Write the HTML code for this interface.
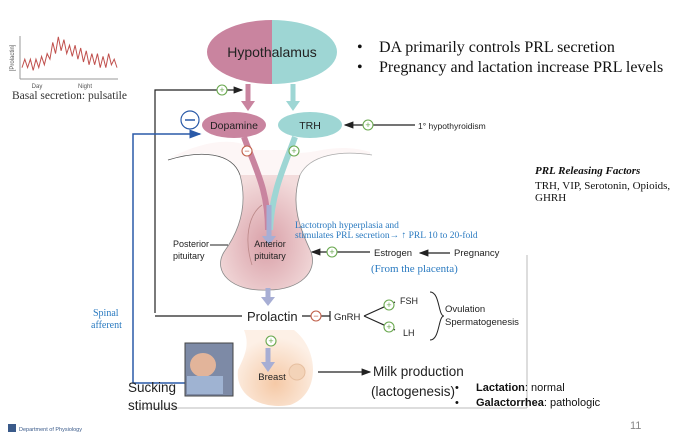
<!DOCTYPE html>
<html><head><meta charset="utf-8"><style>
body{margin:0;background:#fff;}
svg{display:block;font-family:"Liberation Sans",sans-serif;}
.serif{font-family:"Liberation Serif",serif;}
</style></head><body>
<svg width="697" height="434" viewBox="0 0 697 434" xmlns="http://www.w3.org/2000/svg">
<defs>
<marker id="ab" markerWidth="8" markerHeight="8" refX="7" refY="4" orient="auto"><path d="M0,1 L8,4 L0,7z" fill="#222"/></marker>
<marker id="abl" markerWidth="8" markerHeight="8" refX="7" refY="4" orient="auto"><path d="M0,1 L8,4 L0,7z" fill="#2a5aa8"/></marker>
<radialGradient id="pit" cx="0.5" cy="0.6" r="0.6"><stop offset="0" stop-color="#d9a0a8"/><stop offset="1" stop-color="#f3dcdc"/></radialGradient>
<radialGradient id="brst" cx="0.5" cy="0.7" r="0.6"><stop offset="0" stop-color="#f5c9a6"/><stop offset="1" stop-color="#fdf0e6"/></radialGradient>
<clipPath id="lh"><rect x="200" y="15" width="72" height="80"/></clipPath>
<clipPath id="rh"><rect x="272" y="15" width="72" height="80"/></clipPath>
</defs>

<g id="chart">
<line x1="20" y1="36" x2="20" y2="79" stroke="#999" stroke-width="1"/>
<line x1="20" y1="79" x2="118" y2="79" stroke="#999" stroke-width="1"/>
<text x="14" y="58" font-size="6" fill="#555" transform="rotate(-90 14 58)" text-anchor="middle">[Prolactin]</text>
<text x="37" y="88" font-size="6" fill="#555" text-anchor="middle">Day</text>
<text x="85" y="88" font-size="6" fill="#555" text-anchor="middle">Night</text>
</g>
<text x="12" y="99" class="serif" font-size="11.5" fill="#333">Basal secretion: pulsatile</text>

<line x1="527" y1="255" x2="527" y2="408" stroke="#bbb"/>
<line x1="140" y1="408" x2="527" y2="408" stroke="#bbb"/>

<path d="M170,158 C200,150 230,150 240,175 C248,200 240,230 222,255 C215,275 235,292 270,290 C300,288 315,272 310,250 C300,225 292,200 300,175 C310,155 340,150 370,155 L370,152 C330,140 305,160 290,150 L255,150 C235,135 200,142 170,158z" fill="#fdf6f6" stroke="none"/>
<path d="M168,160 C200,150 232,152 240,175" fill="none" stroke="#555" stroke-width="0.8"/>
<path d="M300,175 C310,155 340,150 372,155" fill="none" stroke="#aaa" stroke-width="0.8"/>
<path d="M240,175 C248,205 240,230 224,252 C212,272 232,292 268,290 C300,290 318,272 311,252 C300,228 290,205 300,175" fill="url(#pit)" stroke="#888" stroke-width="0.8"/>
<path d="M262,205 C248,215 244,240 252,265" fill="none" stroke="#b88" stroke-width="0.8"/>

<path d="M244,137 C256,170 268,190 268,230" fill="none" stroke="#c9849f" stroke-width="6"/>
<path d="M295,137 C285,165 272,190 270,230" fill="none" stroke="#9ed6d4" stroke-width="6"/>
<path d="M269,205 L269,240" stroke="#a7aed4" stroke-width="5"/>
<path d="M262,236 L269,245 L276,236z" fill="#a7aed4"/>
<path d="M268,288 L268,300" stroke="#a7aed4" stroke-width="5"/>
<path d="M261,297 L268,306 L275,297z" fill="#a7aed4"/>

<ellipse cx="272" cy="52" rx="65" ry="32" fill="#c9849f" clip-path="url(#lh)"/>
<ellipse cx="272" cy="52" rx="65" ry="32" fill="#9ed6d4" clip-path="url(#rh)"/>
<text x="272" y="57" font-size="14" fill="#222" text-anchor="middle">Hypothalamus</text>
<path d="M248,84 L248,104" stroke="#c9849f" stroke-width="5"/><path d="M241,101 L248,111 L255,101z" fill="#c9849f"/>
<path d="M293,84 L293,104" stroke="#9ed6d4" stroke-width="5"/><path d="M286,101 L293,111 L300,101z" fill="#9ed6d4"/>

<ellipse cx="234" cy="125" rx="32" ry="13" fill="#c9849f"/>
<text x="234" y="129" font-size="10.5" fill="#222" text-anchor="middle">Dopamine</text>
<ellipse cx="310" cy="125" rx="32" ry="13" fill="#9ed6d4"/>
<text x="310" y="129" font-size="10.5" fill="#222" text-anchor="middle">TRH</text>

<path d="M155,313 L155,90 L242,90" fill="none" stroke="#222" stroke-width="1.2" marker-end="url(#ab)"/>
<path d="M185,383 L133,383 L133,134 L200,134" fill="none" stroke="#2a5aa8" stroke-width="1.5" marker-end="url(#abl)"/>
<circle cx="190" cy="120" r="9" fill="#fff" stroke="#2a5aa8" stroke-width="1.2"/><line x1="185" y1="120" x2="195" y2="120" stroke="#2a5aa8" stroke-width="1.5"/>

<path d="M415,125 L345,125" stroke="#222" stroke-width="1.2" marker-end="url(#ab)"/>
<text x="418" y="129" font-size="8.5" fill="#222">1° hypothyroidism</text>

<path d="M370,252 L312,252" stroke="#222" stroke-width="1.2" marker-end="url(#ab)"/>
<path d="M450,253 L420,253" stroke="#222" stroke-width="1.2" marker-end="url(#ab)"/>
<text x="374" y="256" font-size="9.5" fill="#222">Estrogen</text>
<text x="454" y="256" font-size="9.5" fill="#222">Pregnancy</text>
<text x="371" y="272" class="serif" font-size="11" fill="#2a7ac0">(From the placenta)</text>
<text x="295" y="228" class="serif" font-size="9.5" fill="#2a7ac0">Lactotroph hyperplasia and</text>
<text x="295" y="238" class="serif" font-size="9.5" fill="#2a7ac0">stimulates PRL secretion→ ↑ PRL 10 to 20-fold</text>

<text x="173" y="247" font-size="9" fill="#222">Posterior</text>
<text x="173" y="259" font-size="9" fill="#222">pituitary</text>
<line x1="210" y1="245" x2="228" y2="245" stroke="#222"/>
<text x="270" y="247" font-size="9" fill="#222" text-anchor="middle">Anterior</text>
<text x="270" y="259" font-size="9" fill="#222" text-anchor="middle">pituitary</text>

<line x1="155" y1="316" x2="242" y2="316" stroke="#222" stroke-width="1.2"/>
<text x="247" y="321" font-size="13" fill="#222">Prolactin</text>
<line x1="302" y1="316" x2="330" y2="316" stroke="#222" stroke-width="1.2"/>
<line x1="330" y1="311" x2="330" y2="321" stroke="#222" stroke-width="1.2"/>
<text x="334" y="320" font-size="9.5" fill="#222">GnRH</text>
<path d="M364,316 L395,302 M364,316 L395,330" stroke="#222" stroke-width="1.2"/>
<text x="400" y="304" font-size="9" fill="#222">FSH</text>
<text x="403" y="336" font-size="9" fill="#222">LH</text>
<path d="M430,292 C440,292 438,316 444,316 C438,316 440,340 430,340" fill="none" stroke="#222"/>
<text x="445" y="312" font-size="9.5" fill="#222">Ovulation</text>
<text x="445" y="325" font-size="9.5" fill="#222">Spermatogenesis</text>

<path d="M294,330 C320,350 320,395 290,405 C260,410 235,395 238,370 C245,355 250,345 244,330z" fill="url(#brst)"/>
<circle cx="297" cy="372" r="8" fill="#f3d3b8" stroke="#e6bfa0"/>
<path d="M268,348 L268,365" stroke="#a7aed4" stroke-width="5"/><path d="M261,362 L268,372 L275,362z" fill="#a7aed4"/>
<text x="272" y="380" font-size="9.5" fill="#222" text-anchor="middle">Breast</text>
<path d="M318,372 L370,372" stroke="#222" stroke-width="1.2" marker-end="url(#ab)"/>
<text x="373" y="376" font-size="13.5" fill="#222">Milk production</text>
<text x="371" y="396" font-size="13.5" fill="#222">(lactogenesis)</text>

<rect x="185" y="343" width="48" height="53" fill="#7d8aa6" stroke="#444"/>
<ellipse cx="203" cy="365" rx="13" ry="12" fill="#e2b49a"/>
<rect x="187" y="376" width="36" height="18" fill="#9fb3d2"/>
<text x="128" y="392" font-size="13.5" fill="#222">Sucking</text>
<text x="128" y="410" font-size="13.5" fill="#222">stimulus</text>
<text x="93" y="316" class="serif" font-size="10" fill="#2a7ac0">Spinal</text>
<text x="91" y="328" class="serif" font-size="10" fill="#2a7ac0">afferent</text>

<g fill="#fff" stroke-width="1.1">
<circle cx="222" cy="90" r="5" stroke="#6aa84f"/><circle cx="368" cy="125" r="5" stroke="#6aa84f"/>
<circle cx="247" cy="151" r="5" stroke="#c0604a"/><circle cx="294" cy="151" r="5" stroke="#6aa84f"/>
<circle cx="332" cy="252" r="5" stroke="#6aa84f"/><circle cx="316" cy="316" r="5" stroke="#c0604a"/>
<circle cx="389" cy="305" r="5" stroke="#6aa84f"/><circle cx="389" cy="327" r="5" stroke="#6aa84f"/>
<circle cx="271" cy="341" r="5" stroke="#6aa84f"/>
</g>
<g font-size="9" text-anchor="middle">
<text x="222" y="93" fill="#6aa84f">+</text><text x="368" y="128" fill="#6aa84f">+</text>
<text x="247" y="154" fill="#c0604a">−</text><text x="294" y="154" fill="#6aa84f">+</text>
<text x="332" y="255" fill="#6aa84f">+</text><text x="316" y="319" fill="#c0604a">−</text>
<text x="389" y="308" fill="#6aa84f">+</text><text x="389" y="330" fill="#6aa84f">+</text>
<text x="271" y="344" fill="#6aa84f">+</text>
</g>

<text x="357" y="52" class="serif" font-size="16" fill="#111">•</text>
<text x="379" y="52" class="serif" font-size="16" fill="#111">DA primarily controls  PRL secretion</text>
<text x="357" y="72" class="serif" font-size="16" fill="#111">•</text>
<text x="379" y="72" class="serif" font-size="16" fill="#111">Pregnancy and lactation increase PRL levels</text>
<text x="535" y="174" class="serif" font-size="11" font-weight="bold" font-style="italic" fill="#111">PRL Releasing Factors</text>
<text x="535" y="189" class="serif" font-size="11" fill="#111">TRH, VIP, Serotonin, Opioids,</text>
<text x="535" y="201" class="serif" font-size="11" fill="#111">GHRH</text>
<text x="455" y="391" font-size="11" fill="#111">•</text>
<text x="476" y="391" font-size="11" fill="#111"><tspan font-weight="bold">Lactation</tspan>: normal</text>
<text x="455" y="406" font-size="11" fill="#111">•</text>
<text x="476" y="406" font-size="11" fill="#111"><tspan font-weight="bold">Galactorrhea</tspan>: pathologic</text>
<text x="630" y="429" font-size="11" fill="#888">11</text>
<rect x="8" y="424" width="8" height="8" fill="#3a5a8a"/>
<text x="19" y="431" font-size="5.5" fill="#3a5a8a">Department of Physiology</text>
</svg>
<script>
const pulseTimes=[0,1,2,3,4,5,6,7,8,9,10,11,12,13,14,15,16,17,18,19,20,21,22,23,24,25,26,27,28,29,30,31,32,33,34];
const pulseValues=[3,6,3,6,2,6,3,7,4,8,6,12,8,14,9,13,8,11,7,11,6,10,5,9,4,8,4,8,3,7,3,8,4,6,3];
const svgNS="http://www.w3.org/2000/svg";
const xs=t=>22+t*(95/34), ys=v=>76-v*2.8;
const pl=document.createElementNS(svgNS,"polyline");
pl.setAttribute("points",pulseTimes.map((t,i)=>xs(t)+","+ys(pulseValues[i])).join(" "));
pl.setAttribute("fill","none");pl.setAttribute("stroke","#c0504d");pl.setAttribute("stroke-width","1");


document.getElementById("chart").appendChild(pl);
</script>
</body></html>
